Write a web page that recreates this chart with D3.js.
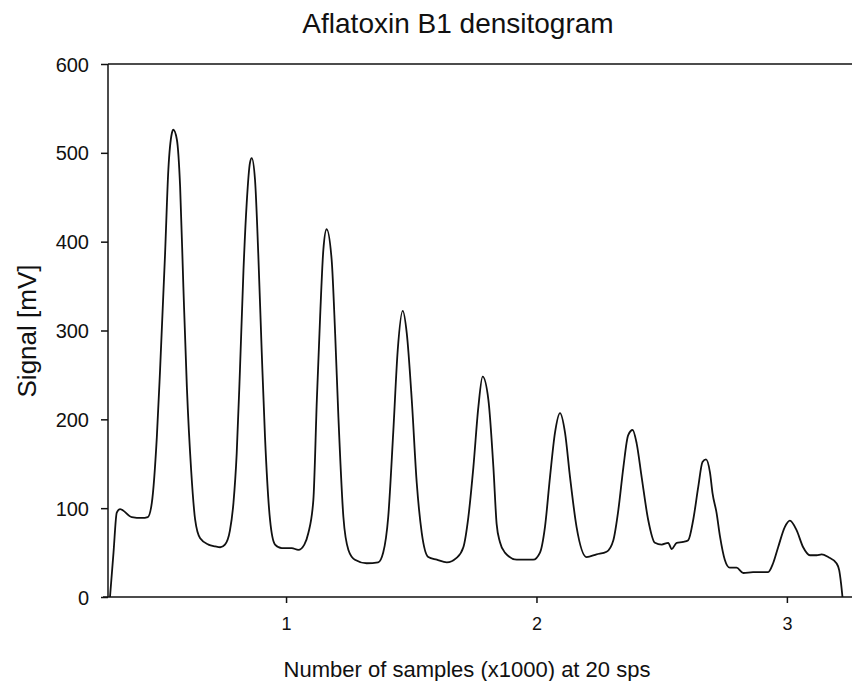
<!DOCTYPE html>
<html>
<head>
<meta charset="utf-8">
<script src="https://cdn.jsdelivr.net/npm/d3@7"></script>
<style>
  body { margin: 0; background: #fff; }
  text { font-family: "Liberation Sans", Arial, sans-serif; fill: #111; }
</style>
</head>
<body>
<div id="data"></div>
<script>
// samples (x1000)
var samples = [0.297, 0.311, 0.324, 0.337, 0.384, 0.424, 0.448, 0.464, 0.484, 0.497,
  0.517, 0.530, 0.544, 0.550, 0.564, 0.577, 0.590, 0.604, 0.621, 0.637,
  0.657, 0.690, 0.717, 0.737, 0.756, 0.776, 0.790, 0.803, 0.816, 0.830,
  0.843, 0.856, 0.863, 0.876, 0.889, 0.903, 0.916, 0.936, 0.956, 0.983,
  1.023, 1.049, 1.073, 1.089, 1.109, 1.123, 1.136, 1.149, 1.162, 1.182,
  1.196, 1.209, 1.229, 1.249, 1.275, 1.322, 1.368, 1.388, 1.408, 1.428,
  1.446, 1.466, 1.482, 1.502, 1.522, 1.542, 1.568, 1.602, 1.642, 1.681,
  1.708, 1.728, 1.748, 1.768, 1.785, 1.808, 1.828, 1.841, 1.854, 1.874, 1.921,
  1.987, 2.014, 2.034, 2.054, 2.074, 2.094, 2.114, 2.134, 2.160, 2.200,
  2.240, 2.280, 2.307, 2.327, 2.347, 2.366, 2.384, 2.400, 2.420, 2.446,
  2.473, 2.500, 2.526, 2.540, 2.560, 2.586, 2.606, 2.626, 2.646, 2.663,
  2.677, 2.693, 2.703, 2.719, 2.733, 2.752, 2.772, 2.799, 2.826, 2.865,
  2.925, 2.945, 2.965, 2.992, 3.012, 3.039, 3.065, 3.092, 3.119, 3.139,
  3.165, 3.198, 3.209, 3.216, 3.222];

// signal in mV, same order
var signal = [0, 50, 95, 99, 90, 89, 90, 106, 180, 256,
  387, 481, 522, 526, 515, 462, 349, 236, 143, 87,
  66, 59, 57, 56, 59, 75, 106, 162, 256, 368,
  444, 489, 494, 470, 387, 275, 180, 87, 59, 55,
  55, 53, 59, 72, 109, 222, 315, 391, 414, 380,
  297, 203, 90, 53, 42, 38, 39, 50, 90, 185,
  278, 322, 297, 222, 128, 72, 45, 42, 39, 44,
  56, 90, 146, 214, 248, 222, 146, 82, 62, 50, 42,
  42, 50, 79, 135, 185, 207, 185, 135, 79, 45,
  48, 51, 64, 98, 146, 182, 188, 173, 135, 87,
  61, 59, 61, 54, 61, 62, 64, 87, 124, 152,
  155, 140, 117, 95, 68, 42, 33, 33, 27, 28,
  28, 38, 56, 79, 86, 75, 56, 47, 47, 48,
  45, 38, 30, 16, 0];

var yTicks = [0, 100, 200, 300, 400, 500, 600];
var xTicks = [1, 2, 3];

var width = 854, height = 681;
var margin = {top: 64, right: 2, bottom: 84, left: 108};

var svg = d3.select("#data")
  .append("svg")
    .attr("width", width)
    .attr("height", height);

var x = d3.scaleLinear()
    .domain([0.289, 3.26])
    .range([margin.left, width - margin.right]);

var y = d3.scaleLinear()
    .domain([0, 600])
    .range([height - margin.bottom, margin.top]);

// Title
svg.append("text")
    .attr("x", 458)
    .attr("y", 33)
    .attr("text-anchor", "middle")
    .style("font-size", "28px")
    .text("Aflatoxin B1 densitogram");

// Y axis
var yAxis = svg.append("g")
    .attr("transform", "translate(" + margin.left + ",0)")
    .call(d3.axisLeft(y).tickValues(yTicks).tickSize(7).tickPadding(12));
yAxis.select(".domain").attr("d", "M0," + y(0) + "V" + y(600));
yAxis.selectAll("text").style("font-size", "20px").attr("dy", "0.35em");
yAxis.selectAll("line, path").attr("stroke", "#111").attr("stroke-width", 1.5);

// top frame line
svg.append("line")
    .attr("x1", margin.left)
    .attr("x2", width - margin.right)
    .attr("y1", y(600))
    .attr("y2", y(600))
    .attr("stroke", "#111")
    .attr("stroke-width", 1.5);

// X axis
var xAxis = svg.append("g")
    .attr("transform", "translate(0," + y(0) + ")")
    .call(d3.axisBottom(x).tickValues(xTicks).tickFormat(d3.format("d")).tickSize(6).tickPadding(14));
xAxis.select(".domain").attr("d", "M" + (margin.left - 5) + ",0H" + (width - margin.right));
xAxis.selectAll("text").style("font-size", "18px");
xAxis.selectAll("line, path").attr("stroke", "#111").attr("stroke-width", 1.5);

// Axis labels
svg.append("text")
    .attr("x", 467)
    .attr("y", 677)
    .attr("text-anchor", "middle")
    .style("font-size", "22px")
    .text("Number of samples (x1000) at 20 sps");

svg.append("text")
    .attr("transform", "translate(36,331) rotate(-90)")
    .attr("text-anchor", "middle")
    .style("font-size", "26px")
    .text("Signal [mV]");

// The densitogram trace
var line = d3.line()
    .x(function(d, i) { return x(samples[i]); })
    .y(function(d) { return y(d); })
    .curve(d3.curveMonotoneX);

svg.append("path")
    .datum(signal)
    .attr("fill", "none")
    .attr("stroke", "#111")
    .attr("stroke-width", 1.8)
    .attr("d", line);
</script>
</body>
</html>
